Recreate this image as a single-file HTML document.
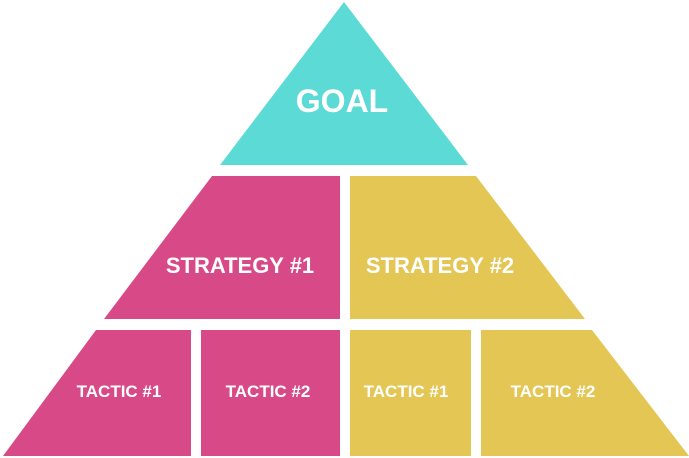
<!DOCTYPE html>
<html><head><style>
html,body{margin:0;padding:0;background:#fff;}
svg{display:block;}
text{font-family:"Liberation Sans",Arial,sans-serif;font-weight:bold;fill:#fff;}
</style></head><body>
<svg width="689" height="458" viewBox="0 0 689 458">
<polygon points="344,2 468,165 220,165" fill="#5cdad5"/>
<polygon points="212,176 340,176 340,319 104,319" fill="#d84a87"/>
<polygon points="350,176 476,176 585,319 350,319" fill="#e3c653"/>
<polygon points="96,330 191,330 191,456 3,456" fill="#d84a87"/>
<rect x="201" y="330" width="139" height="126" fill="#d84a87"/>
<rect x="350" y="330" width="121" height="126" fill="#e3c653"/>
<polygon points="481,330 592,330 689,456 481,456" fill="#e3c653"/>
<text x="342" y="112" font-size="32" text-anchor="middle">GOAL</text>
<text x="240" y="273" font-size="22" text-anchor="middle">STRATEGY #1</text>
<text x="440" y="273" font-size="22" text-anchor="middle">STRATEGY #2</text>
<text x="119" y="397" font-size="17" text-anchor="middle">TACTIC #1</text>
<text x="268" y="397" font-size="17" text-anchor="middle">TACTIC #2</text>
<text x="406" y="397" font-size="17" text-anchor="middle">TACTIC #1</text>
<text x="553" y="397" font-size="17" text-anchor="middle">TACTIC #2</text>
</svg>
</body></html>
